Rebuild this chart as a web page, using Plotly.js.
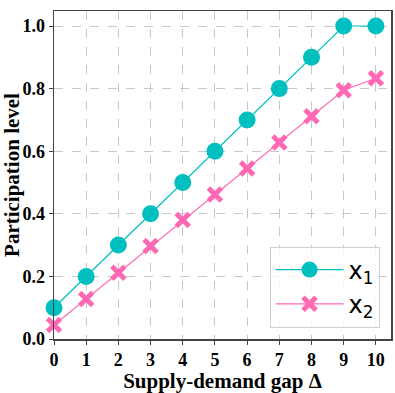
<!DOCTYPE html>
<html>
<head>
<meta charset="utf-8">
<script src="https://cdn.plot.ly/plotly-3.0.1.min.js"></script>
<style>
  html, body { margin: 0; padding: 0; background: #fff; }
  #chart { width: 395px; height: 393px; }
</style>
</head>
<body>
<div id="chart"></div>
<script>
var gaps = [0, 1, 2, 3, 4, 5, 6, 7, 8, 9, 10];
var x1Vals = [0.1, 0.2, 0.3, 0.4, 0.5, 0.6, 0.7, 0.8, 0.9, 1.0, 1.0];
var x2Vals = [0.045, 0.128, 0.212, 0.297, 0.38, 0.462, 0.545, 0.628, 0.712, 0.795, 0.833];

var x1Color = '#00BFBF';
var x2Color = '#FF69B4';
var serif = 'Liberation Serif, Times New Roman, serif';

var data = [
    {
        x: gaps,
        y: x1Vals,
        name: 'x<sub>1</sub>',
        mode: 'lines+markers',
        line: {color: x1Color, width: 1.2},
        marker: {symbol: 'circle', size: 17, color: x1Color},
        cliponaxis: false
    },
    {
        x: gaps,
        y: x2Vals,
        name: 'x<sub>2</sub>',
        mode: 'lines+markers',
        line: {color: x2Color, width: 1.2},
        marker: {symbol: 'x-thin-open', size: 13, color: x2Color, line: {color: x2Color, width: 5}},
        cliponaxis: false
    }
];

var gridStyle = {
    showgrid: true,
    gridcolor: '#c8c8c8',
    griddash: 'dash',
    gridwidth: 1,
    showline: true,
    linecolor: '#444',
    linewidth: 1.5,
    mirror: true,
    zeroline: false,
    ticks: 'outside',
    ticklen: 4,
    tickcolor: '#444',
    tickfont: {family: serif, size: 18, color: '#000', weight: 700}
};

var layout = {
    width: 395,
    height: 393,
    margin: {l: 54, r: 4, t: 11, b: 54},
    paper_bgcolor: '#fff',
    plot_bgcolor: '#fff',
    xaxis: Object.assign({}, gridStyle, {
        range: [0, 10.47],
        tickmode: 'array',
        tickvals: gaps,
        title: {text: 'Supply-demand gap Δ', font: {family: serif, size: 21, color: '#000', weight: 700}, standoff: 4}
    }),
    yaxis: Object.assign({}, gridStyle, {
        range: [0, 1.048],
        tickvals: [0, 0.2, 0.4, 0.6, 0.8, 1.0],
        tickformat: '.1f',
        title: {text: 'Participation level', font: {family: serif, size: 21, color: '#000', weight: 700}, standoff: 4}
    }),
    legend: {
        x: 0.966,
        y: 0.035,
        xanchor: 'right',
        yanchor: 'bottom',
        bgcolor: 'rgba(255,255,255,0.8)',
        bordercolor: '#d0d0d0',
        borderwidth: 1,
        font: {family: 'DejaVu Sans', size: 24, color: '#000'},
        itemwidth: 68
    },
    showlegend: true
};

Plotly.newPlot('chart', data, layout, {displayModeBar: false, staticPlot: true});
</script>
</body>
</html>
